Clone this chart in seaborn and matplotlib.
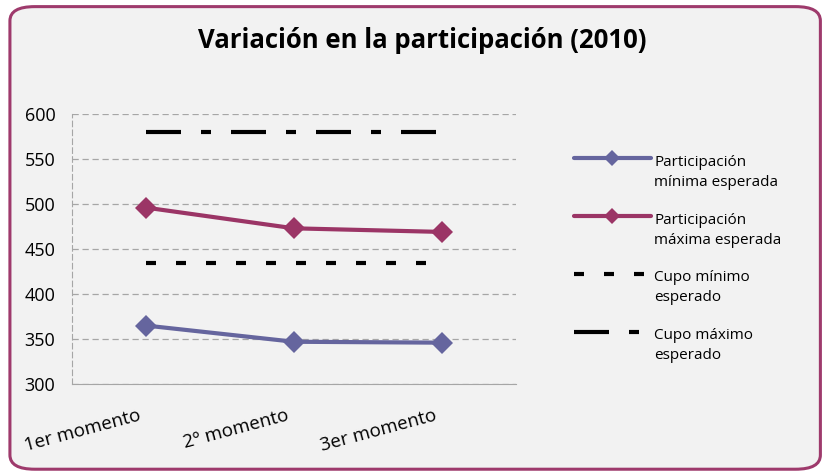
import numpy as np
import pandas as pd
import matplotlib.pyplot as plt
import matplotlib.transforms as mtransforms
import seaborn as sns
from matplotlib.patches import FancyBboxPatch

# Data
moments = ["1er momento", "2º momento", "3er momento"]
part_min = [365, 347, 346]
part_max = [496, 473, 469]
cupo_min = [435, 435, 435]
cupo_max = [580, 580, 580]

labels = ["Participación\nmínima esperada", "Participación\nmáxima esperada",
          "Cupo mínimo\nesperado", "Cupo máximo\nesperado"]

df = pd.DataFrame({"momento": moments, "pmin": part_min, "pmax": part_max,
                   "cmin": cupo_min, "cmax": cupo_max})

sns.set_style("white")
plt.rcParams["font.family"] = ["Open Sans", "DejaVu Sans"]
plt.rcParams["text.color"] = "black"
plt.rcParams["xtick.color"] = "black"
plt.rcParams["ytick.color"] = "black"

bg = "#F2F2F2"
fig = plt.figure(figsize=(8.27, 4.73), dpi=100, facecolor="white")
fig.patches.append(FancyBboxPatch((0.012, 0.008), 0.98, 0.978,
                                  boxstyle="round,pad=0,rounding_size=0.03",
                                  transform=fig.transFigure, facecolor=bg,
                                  edgecolor="#9E3A6C", linewidth=2.2, zorder=-10))

ax = fig.add_axes([0.087, 0.188, 0.537, 0.571])
ax.set_facecolor(bg)
ax.patch.set_alpha(0)

sns.lineplot(data=df, x="momento", y="pmin", ax=ax, color="#65659E", lw=3,
             marker="D", markersize=11, markeredgewidth=0, label=labels[0], sort=False)
sns.lineplot(data=df, x="momento", y="pmax", ax=ax, color="#9B3566", lw=3,
             marker="D", markersize=11, markeredgewidth=0, label=labels[1], sort=False)
sns.lineplot(data=df, x="momento", y="cmin", ax=ax, color="black", lw=3,
             linestyle=(0, (2.4, 4.8)), label=labels[2], sort=False)
sns.lineplot(data=df, x="momento", y="cmax", ax=ax, color="black", lw=3,
             linestyle=(0, (8.4, 4.8, 2.4, 4.8)), label=labels[3], sort=False)

ax.set_xlim(-0.5, 2.5)
ax.set_ylim(300, 600)
ax.set_yticks(np.arange(300, 601, 50))
ax.set_xlabel("")
ax.set_ylabel("")
ax.yaxis.grid(True, color="#A6A6A6", linestyle=(0, (5, 3)), lw=0.9)
ax.set_axisbelow(True)
for s in ["top", "right"]:
    ax.spines[s].set_visible(False)
ax.spines["left"].set_color("#A6A6A6")
ax.spines["left"].set_linestyle((0, (5, 3)))
ax.spines["bottom"].set_color("#A6A6A6")
ax.tick_params(axis="y", length=0, labelsize=13, pad=12)
ax.tick_params(axis="x", length=0, labelsize=13.5, pad=16)
shift = mtransforms.ScaledTranslation(-8 / 100, 0, fig.dpi_scale_trans)
for t in ax.get_xticklabels():
    t.set_rotation(15)
    t.set_ha("right")
    t.set_rotation_mode("anchor")
    t.set_transform(t.get_transform() + shift)

fig.text(0.51, 0.915, "Variación en la participación (2010)", ha="center",
         va="center", fontsize=18.5, fontweight="bold")

leg = ax.legend(loc="upper left", bbox_to_anchor=(1.1, 0.9), frameon=False,
                fontsize=11, handlelength=5.0, handletextpad=0.25, labelspacing=1.5)
for t in leg.get_texts():
    t.set_linespacing(1.45)
# handles sit level with the first line of each two-line label, as in the original
for h in leg.legend_handles:
    h.set_markersize(8)
    h.set_ydata(np.asarray(h.get_ydata()) + 10)

plt.savefig("out.png", dpi=100, facecolor="white")
